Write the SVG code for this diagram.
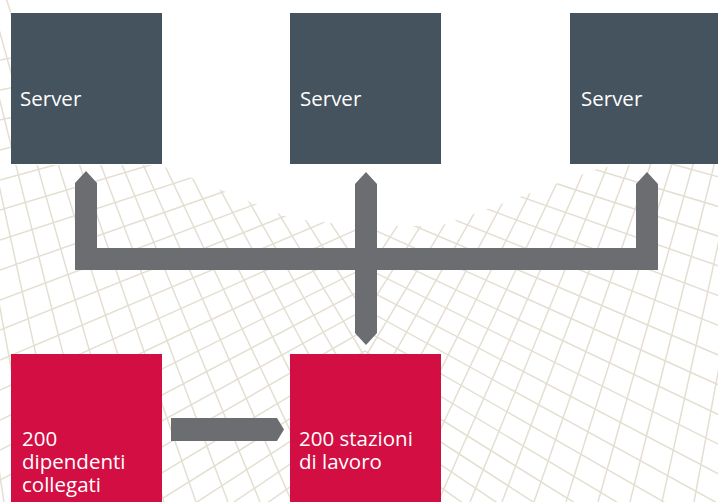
<svg xmlns="http://www.w3.org/2000/svg" xmlns:xlink="http://www.w3.org/1999/xlink" width="718" height="502" viewBox="0 0 718 502">
  <style>
    .mesh { fill: none; stroke: #e4dfd2; stroke-width: 1.5; }
    .server { fill: #44535e; }
    .station { fill: #d20e43; }
    .conn { fill: #6c6d71; }
    .label { font-family: "Open Sans", "Noto Sans", sans-serif; font-size: 20.5px; fill: #ffffff; }
  </style>
  <defs>
    <clipPath id="clipL">
      <polygon points="0,0 11,0 11,165 160,165 290,218 320,222 365,226 365,502 0,502"/>
    </clipPath>
    <clipPath id="clipR">
      <polygon points="365,226 440,226 600,168 640,164 718,164 718,502 365,502"/>
    </clipPath>
    <g id="meshHalf">
      <path class="mesh" d="M1200,-150 L0,60 M1200,-150 L0,90 M1200,-150 L0,120 M1200,-150 L0,150 M1200,-150 L0,180 M1200,-150 L0,210 M1200,-150 L0,240 M1200,-150 L0,270 M1200,-150 L0,300 M1200,-150 L0,330 M1200,-150 L0,360 M1200,-150 L0,390 M1200,-150 L0,420 M1200,-150 L0,450 M1200,-150 L0,480 M1200,-150 L0,510 M1200,-150 L0,540 M1200,-150 L0,570 M1200,-150 L0,600 M1200,-150 L0,630 M1200,-150 L0,660 M1200,-150 L0,690 M1200,-150 L0,720 M1200,-150 L0,750 M1200,-150 L0,780 M1200,-150 L0,810"/>
      <path class="mesh" d="M-150,-500 L-60,502 M-150,-500 L-28,502 M-150,-500 L4,502 M-150,-500 L36,502 M-150,-500 L68,502 M-150,-500 L100,502 M-150,-500 L132,502 M-150,-500 L164,502 M-150,-500 L196,502 M-150,-500 L228,502 M-150,-500 L260,502 M-150,-500 L292,502 M-150,-500 L324,502 M-150,-500 L356,502 M-150,-500 L388,502 M-150,-500 L420,502 M-150,-500 L452,502 M-150,-500 L484,502 M-150,-500 L516,502 M-150,-500 L548,502 M-150,-500 L580,502"/>
    </g>
  </defs>

  <rect width="718" height="502" fill="#ffffff"/>

  <g id="background-mesh">
    <g clip-path="url(#clipL)"><use xlink:href="#meshHalf"/></g>
    <g clip-path="url(#clipR)"><use xlink:href="#meshHalf" transform="translate(730,0) scale(-1,1)"/></g>
  </g>

  <g id="connectors">
    <path class="conn" d="M75,183 L86,171 L97,183 L97,248 L355,248 L355,184 L366,172 L377,184 L377,248 L636,248 L636,184 L647,172 L658,184 L658,270 L377,270 L377,333 L366,345 L355,333 L355,270 L75,270 Z"/>
    <polygon class="conn" points="171,418 277,418 284,429.5 277,441 171,441"/>
  </g>

  <g id="server1">
    <rect class="server" x="11" y="13" width="151" height="151"/>
    <text class="label" x="20" y="106">Server</text>
  </g>
  <g id="server2">
    <rect class="server" x="290" y="13" width="151" height="151"/>
    <text class="label" x="300" y="106">Server</text>
  </g>
  <g id="server3">
    <rect class="server" x="570" y="13" width="148" height="151"/>
    <text class="label" x="581" y="106">Server</text>
  </g>

  <g id="employees">
    <rect class="station" x="11" y="354" width="151" height="148"/>
    <text class="label" x="22" y="446">200</text>
    <text class="label" x="22" y="469">dipendenti</text>
    <text class="label" x="22" y="492">collegati</text>
  </g>
  <g id="workstations">
    <rect class="station" x="290" y="354" width="151" height="148"/>
    <text class="label" x="299" y="446">200 stazioni</text>
    <text class="label" x="299" y="469">di lavoro</text>
  </g>
</svg>
